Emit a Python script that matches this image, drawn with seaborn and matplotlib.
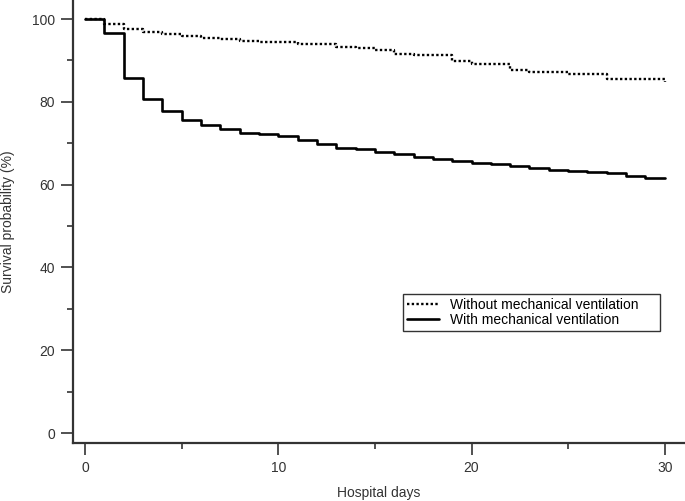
import numpy as np
import pandas as pd
import seaborn as sns
import matplotlib.pyplot as plt

# days since admission, survival (%)
days = list(range(0, 31))
without_mv = [100, 98.7, 97.5, 96.8, 96.3, 95.8, 95.5, 95.1, 94.8, 94.4,
              94.4, 93.9, 93.9, 93.3, 92.9, 92.5, 91.6, 91.4, 91.4, 89.9,
              89.1, 89.1, 87.8, 87.3, 87.3, 86.8, 86.8, 85.6, 85.6, 85.6, 84.9]
with_mv = [100, 96.7, 85.7, 80.8, 77.9, 75.5, 74.3, 73.4, 72.5, 72.2,
           71.7, 70.8, 69.7, 68.9, 68.6, 67.8, 67.3, 66.7, 66.3, 65.8,
           65.3, 64.9, 64.5, 64.1, 63.6, 63.3, 63.1, 62.9, 62.2, 61.6, 61.6]
groups = ["Without mechanical ventilation", "With mechanical ventilation"]

x_ticks = [0, 10, 20, 30]
y_ticks = [0, 20, 40, 60, 80, 100]

df = pd.DataFrame({
    "day": days * 2,
    "survival": without_mv + with_mv,
    "group": [groups[0]] * len(days) + [groups[1]] * len(days),
})

sns.set_style("ticks")
plt.rcParams['font.family'] = ['Liberation Sans', 'DejaVu Sans']
ink = "#333333"

fig = plt.figure(figsize=(6.85, 5.01), dpi=100)
ax = fig.add_axes([0.106, 0.115, 0.894, 0.885])

sns.lineplot(data=df[df.group == groups[0]], x="day", y="survival", color="black",
             linewidth=1.7, linestyle=(0, (1, 1)), drawstyle="steps-post", ax=ax,
             label=groups[0], legend=False)
sns.lineplot(data=df[df.group == groups[1]], x="day", y="survival", color="black",
             linewidth=1.9, drawstyle="steps-post", ax=ax,
             label=groups[1], legend=False)

ax.set_xlim(-0.65, 31.05)
ax.set_ylim(-2.5, 104.6)
ax.set_xticks(x_ticks)
ax.set_xticks([5, 15, 25], minor=True)
ax.set_yticks(y_ticks)
ax.set_yticks([10, 30, 50, 70, 90], minor=True)
ax.tick_params(which="major", length=8.5, width=1.2, color=ink, labelcolor=ink,
               labelsize=10, pad=4)
ax.tick_params(which="minor", length=4.5, width=1.2, color=ink)
sns.despine(ax=ax)
for s in ["left", "bottom"]:
    ax.spines[s].set_linewidth(1.6)
    ax.spines[s].set_color(ink)

ax.set_xlabel("Hospital days", fontsize=10, color=ink, labelpad=8)
ax.set_ylabel("Survival probability (%)", fontsize=10, color=ink, labelpad=12)

# legend box stretched to the width it has in the original
leg = ax.legend(handles=ax.lines[:2], labels=groups, loc="lower left",
                bbox_to_anchor=(0.54, 0.254, 0.419, 0.076), mode="expand",
                fontsize=10, frameon=True, fancybox=False, edgecolor="black",
                handlelength=2.3, handletextpad=0.8, labelspacing=0.1,
                borderpad=0.25, borderaxespad=0)
leg.get_frame().set_linewidth(1.0)
for t in leg.get_texts():
    t.set_color("black")

fig.savefig("out.png", dpi=100)
